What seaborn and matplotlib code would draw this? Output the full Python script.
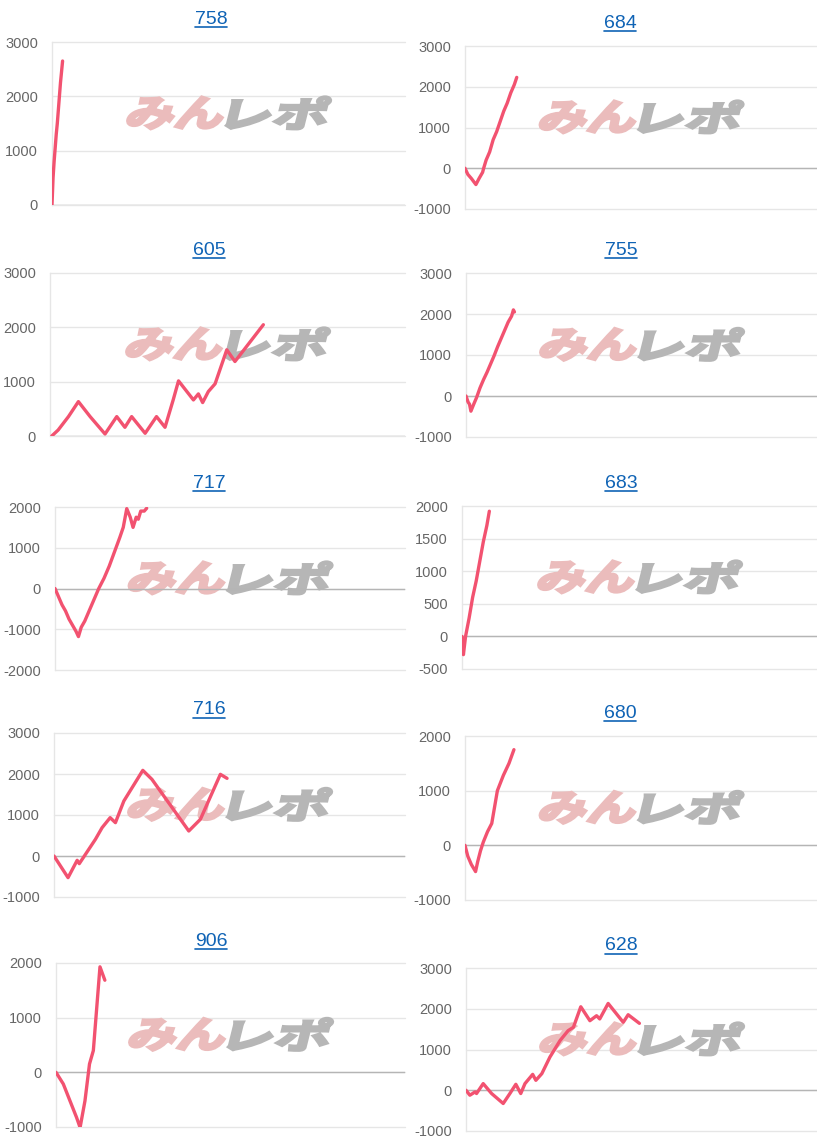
import pandas as pd
import matplotlib
matplotlib.use("Agg")
import matplotlib.pyplot as plt
import matplotlib.transforms as mtransforms
from matplotlib.textpath import TextPath
from matplotlib.patches import PathPatch
from matplotlib.font_manager import FontProperties
from matplotlib.lines import Line2D
import seaborn as sns

# x = position along the (unlabelled) game axis in percent, y = cumulative diff
x_758 = [0, 0.3, 0.6, 0.9, 1.2, 1.5, 1.8, 2.1, 2.4, 2.7, 3.0]
y_758 = [0, 500, 800, 1050, 1300, 1500, 1750, 2000, 2250, 2450, 2650]

x_684 = [0, 0.8, 1.8, 3.1, 4.0, 5.0, 5.3, 6.0, 7.0, 8.0, 9.0, 10.0, 11.0, 12.0, 13.0, 14.0, 14.7]
y_684 = [0, -150, -250, -400, -250, -100, 0, 200, 400, 700, 900, 1150, 1400, 1600, 1850, 2050, 2230]

x_605 = [0.5, 2.3, 5.2, 8.0, 11.3, 15.5, 18.8, 21.1, 23.0, 26.8, 30.0, 32.4, 34.7, 36.2,
         40.4, 41.8, 43.0, 44.6, 46.5, 49.8, 52.1, 60.1]
y_605 = [0, 110, 357, 633, 357, 37, 357, 160, 357, 50, 357, 160, 664, 1015,
         664, 775, 615, 818, 960, 1587, 1371, 2048]

x_755 = [0, 0.6, 1.0, 1.4, 2.2, 3.0, 4, 5, 6, 7, 8, 9, 10, 11, 12, 13, 13.5, 13.8]
y_755 = [0, -150, -200, -370, -200, -40, 200, 400, 580, 780, 980, 1200, 1400, 1600, 1800, 1950, 2100, 2050]

x_717 = [0, 1, 2, 3, 4, 5, 6, 6.7, 7.5, 8.5, 9.5, 10.5, 11.5, 12.5, 14, 15.5, 17, 18.5,
         19.5, 20.5, 21.5, 22.3, 23.2, 23.8, 24.5, 25.5, 26.2]
y_717 = [0, -200, -400, -550, -750, -900, -1050, -1180, -950, -800, -600, -400, -200, 0,
         250, 550, 900, 1250, 1500, 1960, 1750, 1500, 1750, 1700, 1900, 1900, 1970]

x_683 = [0, 0.2, 0.4, 1, 2, 3, 4, 5, 6, 7, 7.7]
y_683 = [0, -100, -280, 0, 280, 600, 850, 1150, 1450, 1700, 1920]

x_716 = [0, 4.0, 6.6, 7.2, 11.8, 13.7, 16.0, 17.5, 19.9, 25.3, 27.9, 38.4, 41.7, 47.4, 49.3]
y_716 = [0, -528, -105, -187, 407, 691, 935, 813, 1341, 2089, 1870, 610, 894, 1992, 1894]

x_680 = [0, 0.8, 1.8, 3.0, 3.6, 4.4, 5.2, 6.4, 7.6, 8.4, 9.2, 10.9, 12.5, 13.9]
y_680 = [0, -200, -350, -480, -300, -100, 60, 250, 400, 700, 1000, 1280, 1500, 1750]

x_906 = [0, 2.1, 5.9, 6.9, 8.3, 9.6, 10.7, 12.6, 14.0]
y_906 = [0, -214, -827, -1010, -521, 153, 398, 1930, 1685]

x_628 = [0, 1.1, 2.6, 3.0, 4.9, 7.3, 10.6, 12.5, 14.2, 15.6, 16.8, 19.0, 19.9, 21.6, 23.9,
         26.8, 29.1, 30.6, 32.7, 35.3, 37.2, 38.1, 40.5, 44.8, 46.2, 49.4]
y_628 = [0, -122, -40, -80, 163, -81, -325, -81, 146, -81, 163, 390, 244, 407, 813,
         1220, 1463, 1545, 2049, 1707, 1829, 1750, 2130, 1667, 1853, 1642]

titles = ["758", "684", "605", "755", "717", "683", "716", "680", "906", "628"]
series_x = [x_758, x_684, x_605, x_755, x_717, x_683, x_716, x_680, x_906, x_628]
series_y = [y_758, y_684, y_605, y_755, y_717, y_683, y_716, y_680, y_906, y_628]
yticks = [
    [0, 1000, 2000, 3000],
    [-1000, 0, 1000, 2000, 3000],
    [0, 1000, 2000, 3000],
    [-1000, 0, 1000, 2000, 3000],
    [-2000, -1000, 0, 1000, 2000],
    [-500, 0, 500, 1000, 1500, 2000],
    [-1000, 0, 1000, 2000, 3000],
    [-1000, 0, 1000, 2000],
    [-1000, 0, 1000, 2000],
    [-1000, 0, 1000, 2000, 3000],
]

W, H = 817, 1145
# panel boxes in pixels: left, right, top, bottom
boxes = [(52, 405, 42, 205), (465, 817, 46, 209),
         (50, 405, 273, 436), (466, 817, 273, 437),
         (55, 405, 507, 670), (462, 817, 506, 669),
         (54, 405, 733, 897), (465, 817, 736, 900),
         (56, 405, 963, 1127), (466, 817, 968, 1131)]
title_pos = [(211, 19), (620, 23), (209, 250), (621, 250), (209, 484),
             (621, 483), (209, 710), (620, 713), (211, 941), (621, 946)]

sns.set_style("white")
plt.rcParams['font.family'] = ['Liberation Sans', 'DejaVu Sans']
plt.rcParams['axes.unicode_minus'] = False

LINE = "#f25270"
GRID = "#e6e6e6"
fig = plt.figure(figsize=(W / 100, H / 100), dpi=100)
fp = FontProperties(family='Noto Sans CJK JP', weight='bold')


def watermark(ax):
    for txt, col, dx, w in [("みん", "#ebbcbc", -52, 94), ("レポ", "#b6b6b6", 50, 98)]:
        tp = TextPath((0, 0), txt, size=1, prop=fp)
        bb = tp.get_extents()
        tr = (mtransforms.Affine2D()
              .translate(-(bb.x0 + bb.x1) / 2, -(bb.y0 + bb.y1) / 2)
              .scale(w / bb.width, 32 / bb.height)
              .skew_deg(14, 0)
              .translate(dx, 0)
              + mtransforms.ScaledTranslation(0.5, 0.565, ax.transAxes))
        # stroke the outline too so the glyphs read heavy like the logo
        p = PathPatch(tp, transform=tr, facecolor=col, edgecolor=col, lw=2.2,
                      joinstyle="miter", zorder=1, clip_on=False)
        ax.add_artist(p)


title_texts = []
for i in range(10):
    L, R, T, B = boxes[i]
    ax = fig.add_axes([L / W, 1 - B / H, (R - L) / W, (B - T) / H])
    df = pd.DataFrame({"x": series_x[i], "y": series_y[i]})
    watermark(ax)
    sns.lineplot(data=df, x="x", y="y", ax=ax, color=LINE, lw=2.4,
                 estimator=None, sort=False, zorder=3,
                 solid_joinstyle="round", solid_capstyle="round")
    ax.set_xlim(0, 100)
    ax.set_ylim(yticks[i][0], yticks[i][-1])
    ax.set_yticks(yticks[i])
    ax.set_xticks([])
    ax.set_xlabel("")
    ax.set_ylabel("")
    ax.grid(axis="y", color=GRID, lw=1, zorder=0)
    ax.axhline(0, color="#b5b5b5", lw=1, zorder=2)
    for s in ["top", "right", "bottom"]:
        ax.spines[s].set_visible(False)
    ax.spines["left"].set_color(GRID)
    ax.spines["left"].set_linewidth(1)
    ax.tick_params(axis="y", length=9, width=1, color=GRID, labelcolor="#666666",
                   labelsize=10.5, pad=1)
    for gl in ax.get_ygridlines():
        gl.set_clip_on(False)
    tx, ty = title_pos[i]
    t = fig.text(tx / W, 1 - ty / H, titles[i], ha="center", va="center",
                 fontsize=14, color="#0f63b5")
    title_texts.append(t)

# underline the titles like links
fig.canvas.draw()
inv = fig.transFigure.inverted()
for t in title_texts:
    bb = t.get_window_extent()
    (x0, y0), (x1, _) = inv.transform([(bb.x0, bb.y0 + 1), (bb.x1, bb.y0 + 1)])
    fig.add_artist(Line2D([x0, x1], [y0, y0], transform=fig.transFigure,
                          color="#0f63b5", lw=1.2))

fig.savefig("out.png", dpi=100)
